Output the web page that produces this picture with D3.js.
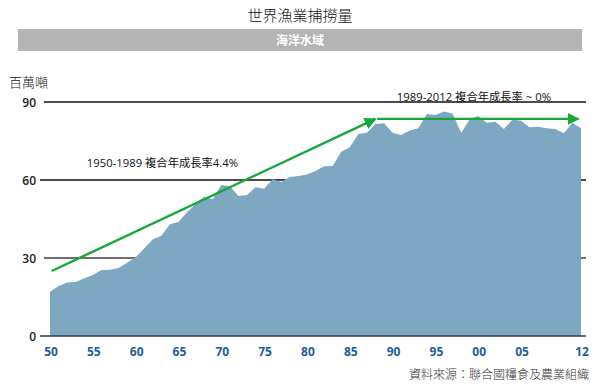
<!DOCTYPE html>
<html>
<head>
  <meta charset="UTF-8">
  <style>
    body { margin: 0; background: #fff; }
    svg { display: block; }
  </style>
  <title>世界漁業捕撈量</title>
</head>
<body>
<svg></svg>
<script src="https://d3js.org/d3.v7.min.js"></script>
<script>

let width = 600, height = 389;

// data (million tonnes, marine capture)
let years = d3.range(1950, 2013);
let catchValues = [
  17.0, 19.2, 20.6, 20.8, 22.2, 23.5, 25.4, 25.5, 26.2, 28.2,
  30.3, 33.7, 37.2, 38.6, 43.0, 43.8, 47.6, 50.8, 53.6, 52.6,
  58.1, 57.6, 53.8, 54.2, 57.2, 56.6, 60.3, 59.2, 61.2, 61.5,
  62.1, 63.5, 65.3, 65.4, 70.9, 72.6, 77.7, 78.2, 81.5, 81.8,
  78.2, 77.3, 79.0, 79.9, 85.4, 85.0, 86.3, 85.6, 78.2, 83.3,
  84.6, 82.0, 82.4, 79.6, 83.3, 82.8, 80.3, 80.5, 79.9, 79.6,
  78.0, 82.0, 79.9
];
let xTicks = [1950, 1955, 1960, 1965, 1970, 1975, 1980, 1985, 1990, 1995, 2000, 2005, 2012];
let yTicks = [0, 30, 60, 90];
let trendUp = [[1950.2, 25.0], [1988.0, 83.5]];
let trendFlat = [[1988.2, 83.5], [2011.7, 83.5]];

let series = years.map((y, i) => ({ year: y, value: catchValues[i] }));

let svg = d3.select("svg")
    .attr("width", width)
    .attr("height", height);

let x = d3.scaleLinear().domain([1950, 2012]).range([50, 581]);
let y = d3.scaleLinear().domain([0, 90]).range([336, 102]);

let green = "#16a63a";

// title + banner
svg.append("text")
    .attr("x", 300).attr("y", 21)
    .attr("text-anchor", "middle")
    .style("font-family", "'Noto Sans CJK TC'")
    .style("font-weight", 300)
    .style("font-size", "15px")
    .attr("fill", "#111")
    .text("世界漁業捕撈量");

svg.append("rect")
    .attr("x", 18).attr("y", 29)
    .attr("width", 564).attr("height", 22)
    .attr("fill", "#b4b4b4");

svg.append("text")
    .attr("x", 300).attr("y", 44.5)
    .attr("text-anchor", "middle")
    .style("font-family", "'Noto Sans CJK TC'")
    .style("font-weight", 700)
    .style("font-size", "12px")
    .attr("fill", "#fff")
    .text("海洋水域");

// unit
svg.append("text")
    .attr("x", 9).attr("y", 87)
    .style("font-family", "'Noto Sans CJK TC'")
    .style("font-weight", 300)
    .style("font-size", "13px")
    .attr("fill", "#222")
    .text("百萬噸");

// gridlines
let grid = svg.append("g");
grid.selectAll("line")
    .data(yTicks.filter(d => d > 0))
  .enter()
    .append("line")
    .attr("x1", d => d == 60 ? 40 : 44)
    .attr("x2", 586)
    .attr("y1", d => y(d))
    .attr("y2", d => y(d))
    .attr("stroke", d => d == 30 ? "#6e6e6e" : "#111")
    .attr("stroke-width", d => d == 30 ? 2 : 1.4);

// area
let area = d3.area()
    .x(d => x(d.year))
    .y0(y(0))
    .y1(d => y(d.value));

svg.append("path")
    .datum(series)
    .attr("d", area)
    .attr("fill", "#7ea8c2");

// baseline
svg.append("line")
    .attr("x1", 40).attr("x2", 586)
    .attr("y1", y(0)).attr("y2", y(0))
    .attr("stroke", "#2e3a46")
    .attr("stroke-width", 1.5);

// y labels
svg.append("g")
    .selectAll("text")
    .data(yTicks)
  .enter()
    .append("text")
    .attr("x", 36)
    .attr("y", d => y(d) + 4.5)
    .attr("text-anchor", "end")
    .style("font-family", "'Open Sans'")
    .style("font-weight", 600)
    .style("font-size", "12px")
    .attr("fill", "#222")
    .text(d => d);

// x labels
svg.append("g")
    .selectAll("text")
    .data(xTicks)
  .enter()
    .append("text")
    .attr("x", d => x(d) + 1)
    .attr("y", 356)
    .attr("text-anchor", "middle")
    .style("font-family", "'Open Sans'")
    .style("font-weight", 700)
    .style("font-size", "12px")
    .attr("fill", "#1d5d9b")
    .text(d => String(d % 100).padStart(2, "0"));

// trend arrows
let defs = svg.append("defs");
defs.append("marker")
    .attr("id", "arrow")
    .attr("viewBox", "0 0 10 10")
    .attr("refX", 9).attr("refY", 5)
    .attr("markerWidth", 5).attr("markerHeight", 5)
    .attr("orient", "auto")
  .append("path")
    .attr("d", "M0,0 L10,5 L0,10 Z")
    .attr("fill", green);

let line = d3.line().x(d => x(d[0])).y(d => y(d[1]));

[trendUp, trendFlat].forEach(pts => {
    svg.append("path")
        .attr("d", line(pts))
        .attr("fill", "none")
        .attr("stroke", green)
        .attr("stroke-width", 2.4)
        .attr("marker-end", "url(#arrow)");
});

// annotations
let notes = [
    { text: "1950-1989 複合年成長率4.4%", year: 1954.3, value: 65.0 },
    { text: "1989-2012 複合年成長率 ~ 0%", year: 1990.5, value: 90.5 }
];
svg.append("g")
    .selectAll("text")
    .data(notes)
  .enter()
    .append("text")
    .attr("x", d => x(d.year))
    .attr("y", d => y(d.value))
    .style("font-family", "'Open Sans', 'Noto Sans CJK TC'")
    .style("font-size", "11.3px")
    .attr("fill", "#111")
    .text(d => d.text);

// source
svg.append("text")
    .attr("x", 589).attr("y", 379)
    .attr("text-anchor", "end")
    .style("font-family", "'Noto Sans CJK TC'")
    .style("font-weight", 300)
    .style("font-size", "12px")
    .attr("fill", "#333")
    .text("資料來源：聯合國糧食及農業組織");

</script>
</body>
</html>
